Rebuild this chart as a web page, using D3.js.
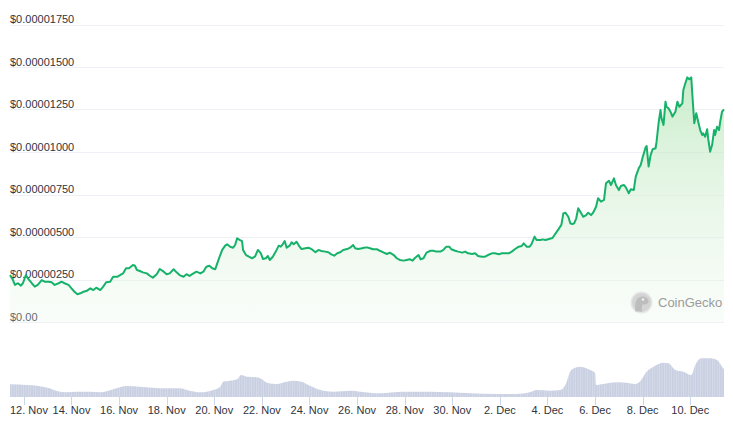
<!DOCTYPE html>
<html><head><meta charset="utf-8">
<script src="https://cdn.jsdelivr.net/npm/d3@7"></script>
<style>
html,body{margin:0;padding:0;background:#fff;}
svg{display:block;font-family:"Liberation Sans",Arial,sans-serif;}
</style></head>
<body><svg id="c" width="733" height="424"></svg>
<script>
const baseDate = Date.UTC(2023, 10, 12); // 12 Nov 00:00 UTC
const priceHours = [-14,-11,-9,-6,-3,-1,2,4,8,11,14,18,21,25,28,31,35,38,41,45,48,51,54,57,60,63,67,70,73,77,80,83,87,90,94,97,100,103,106,110,112,114,117,120,124,127,130,134,137,141,144,147,151,154,157,161,164,167,171,174,178,181,184,187,190,193,195,198,200,203,205,208,211,213,215,218,220,221,224,227,230,233,236,239,241,244,246,248,251,254,257,259,261,263,265,268,270,272,275,278,280,284,287,290,294,297,300,304,307,310,313,316,319,322,326,329,332,334,337,341,343,346,349,352,356,359,363,366,369,373,376,379,383,386,389,392,394,398,400,403,406,410,413,416,420,423,426,429,431,435,438,442,445,448,452,455,458,462,465,468,472,475,479,482,485,489,492,495,499,502,504,507,510,512,515,517,521,523,526,533,539,542,544,546,549,551,553,555,557,559,562,564,567,569,572,574,577,579,582,585,587,590,592,595,597,600,602,605,607,610,612,615,617,620,622,624,627,628,630,632,634,637,638,640,642,643,645,647,648,650,652,654,657,659,661,664,665,667,669,671,673,674,676,678,680,682,684,685,687,689,690,692,694,696,697,699,701,702,704,706];
const priceValues = [2.76,2.47,2.18,2.28,2.14,2.28,2.76,2.57,2.28,2.08,2.18,2.47,2.37,2.37,2.34,2.18,2.28,2.37,2.28,2.18,1.98,1.78,1.63,1.69,1.78,1.82,1.98,1.88,2.02,1.88,2.08,2.34,2.37,2.66,2.66,2.76,2.86,3.16,3.16,3.35,3.31,3.06,3.00,2.92,2.86,2.72,2.61,2.81,3.12,2.96,2.81,2.86,3.10,2.92,2.76,2.66,2.81,2.71,2.86,2.96,2.86,2.96,3.25,3.31,3.16,3.10,3.45,3.94,4.24,4.49,4.57,4.43,4.37,4.53,4.92,4.82,4.76,4.24,3.94,3.84,3.75,3.84,4.24,4.04,3.71,3.75,3.88,3.65,3.84,4.14,4.49,4.43,4.57,4.76,4.37,4.49,4.69,4.57,4.72,4.43,4.29,4.34,4.37,4.29,4.10,4.24,4.18,4.14,4.10,3.98,3.90,4.04,4.10,4.24,4.29,4.37,4.53,4.34,4.29,4.34,4.37,4.39,4.34,4.28,4.28,4.19,4.08,4.00,4.08,3.94,3.75,3.65,3.61,3.65,3.69,3.61,3.75,3.94,3.69,3.75,4.08,4.19,4.19,4.14,4.14,4.24,4.43,4.43,4.28,4.19,4.14,4.08,4.14,4.04,4.00,4.04,3.88,3.84,3.84,3.94,4.04,4.04,3.98,4.04,4.04,4.04,4.14,4.28,4.43,4.47,4.63,4.43,4.43,4.59,5.02,4.82,4.82,4.86,4.82,4.94,5.45,5.71,6.39,6.43,6.19,5.81,5.76,5.81,6.10,6.69,6.39,6.19,6.29,6.43,6.29,6.43,6.78,7.28,7.08,7.18,8.16,8.31,8.06,8.45,8.06,7.76,8.00,8.06,7.92,7.57,7.81,7.76,8.55,9.04,9.24,9.69,10.28,10.35,9.14,9.82,10.16,10.22,10.61,11.69,12.47,11.98,11.59,12.96,12.66,12.57,12.37,12.08,12.37,12.96,12.66,12.86,13.65,14.04,14.39,14.28,14.39,13.45,11.69,12.28,11.78,11.29,11.00,11.10,10.90,11.34,10.81,10.02,10.41,11.29,11.00,11.49,11.29,11.72,12.37,12.51]; // in millionths of a dollar
const volumeHours = [-14,3,19,26,33,43,53,67,77,90,104,117,130,144,157,167,178,191,198,201,208,215,219,225,235,240,245,255,265,272,280,289,299,312,329,339,349,359,382,409,430,450,477,497,510,517,530,541,546,552,561,571,576,577,584,598,611,616,621,628,635,645,650,657,665,673,677,683,692,699,704,706];
const volumeValues = [12.7,12,10.3,8.7,6,4.7,5.3,5.3,4.7,7.7,11,10.3,9.3,8.7,8.7,6.3,4.7,7,10.3,15.3,16.3,17.7,22,20.3,19.7,17.7,14.3,13,15.3,16.3,15.3,11,7,5.3,6.3,5.3,4.3,3.7,5.3,5.3,4.7,3.7,3,3,4.7,7,6.3,7,12,27,30.3,27,24.3,12,13,14.7,13.7,13,15.3,25.3,30.3,34.3,33.7,27,25.3,22,32,38.7,38.7,37,30.3,27.7]; // millions USD
const yTicks = [0, 2.5e-6, 5e-6, 7.5e-6, 1e-5, 1.25e-5, 1.5e-5, 1.75e-5];
const xTickDays = [0,2,4,6,8,10,12,14,16,18,20,22,24,26,28]; // days after 12 Nov

const H = 3600e3;
const price = priceHours.map((h,i)=>({t:new Date(baseDate+h*H), v:priceValues[i]*1e-6}));
const vol = volumeHours.map((h,i)=>({t:new Date(baseDate+h*H), v:volumeValues[i]}));

const svg = d3.select("#c");
const x = d3.scaleUtc().domain([new Date(baseDate-14*H), new Date(baseDate+706*H)]).range([10,724]);
const y = d3.scaleLinear().domain([0,1.75e-5]).range([322,24.5]);
const yv = d3.scaleLinear().domain([0,40]).range([397,357]);

const defs = svg.append("defs");
const g = defs.append("linearGradient").attr("id","pg").attr("x1",0).attr("x2",0)
  .attr("gradientUnits","userSpaceOnUse").attr("y1",y(1.45e-5)).attr("y2",y(0));
g.append("stop").attr("offset",0).attr("stop-color","#b8e6b9").attr("stop-opacity",0.75);
g.append("stop").attr("offset",1).attr("stop-color","#e8f6e8").attr("stop-opacity",0.25);
const pat = defs.append("pattern").attr("id","vp").attr("patternUnits","userSpaceOnUse").attr("width",2.4).attr("height",10);
pat.append("rect").attr("width",2.4).attr("height",10).attr("fill","#dde2ee");
pat.append("rect").attr("width",1.9).attr("height",10).attr("fill","#c9d0e2");

// grid
svg.append("g").selectAll("line").data(yTicks).join("line")
  .attr("x1",10).attr("x2",724).attr("y1",d=>Math.round(y(d))+0.5).attr("y2",d=>Math.round(y(d))+0.5)
  .attr("stroke","#eef0f6").attr("stroke-width",1);
svg.append("g").selectAll("text").data(yTicks).join("text")
  .attr("x",10).attr("y",d=>y(d)-1.5)
  .attr("font-size",11).attr("fill","#30343d")
  .text(d=> d===0 ? "$0.00" : "$"+d.toFixed(8));

// price area + line
svg.append("path").datum(price)
  .attr("d", d3.area().x(d=>x(d.t)).y0(y(0)).y1(d=>y(d.v)))
  .attr("fill","url(#pg)");
svg.append("path").datum(price)
  .attr("d", d3.line().x(d=>x(d.t)).y(d=>y(d.v)))
  .attr("fill","none").attr("stroke","#17b26a").attr("stroke-width",2).attr("stroke-linejoin","round");

// volume
svg.append("path").datum(vol)
  .attr("d", d3.area().x(d=>x(d.t)).y0(yv(0)).y1(d=>yv(d.v)).curve(d3.curveMonotoneX))
  .attr("fill","url(#vp)");

// x axis ticks
const ticks = xTickDays.map(dd=>new Date(baseDate + dd*24*H));
const fmt = d3.utcFormat("%-d. %b");
const xa = svg.append("g");
xa.selectAll("line").data(ticks).join("line")
  .attr("x1",d=>Math.round(x(d))+0.5).attr("x2",d=>Math.round(x(d))+0.5)
  .attr("y1",397).attr("y2",405).attr("stroke","#ccd6eb");
xa.selectAll("text").data(ticks).join("text")
  .attr("y",414).attr("font-size",11).attr("fill","#30343d")
  .attr("text-anchor","middle")
  .text(d=>fmt(d))
  .each(function(d){
    const w = this.getComputedTextLength();
    let cx = x(d);
    if (cx - w/2 < 10) cx = 10 + w/2;
    d3.select(this).attr("x",cx);
  });

// watermark
const wm = svg.append("g").attr("transform","translate(641.5,302.5)");
wm.append("circle").attr("r",11).attr("fill","#e6e6e6");
wm.append("circle").attr("r",9.5).attr("fill","#d4d4d4");
wm.append("path").attr("d","M-6,9 C-7,2 -6,-5 0,-6 C4,-6.5 7,-4 7,-1 C7,1.5 4,2 1,2 C0,5 0,7 1,9 Z").attr("fill","#bdbdbd");
wm.append("circle").attr("cx",1.5).attr("cy",-3).attr("r",1.2).attr("fill","#f2f2f2");
svg.append("text").attr("x",658).attr("y",307).attr("font-size",13).attr("fill","#9b9b9b").text("CoinGecko");
</script></body></html>
